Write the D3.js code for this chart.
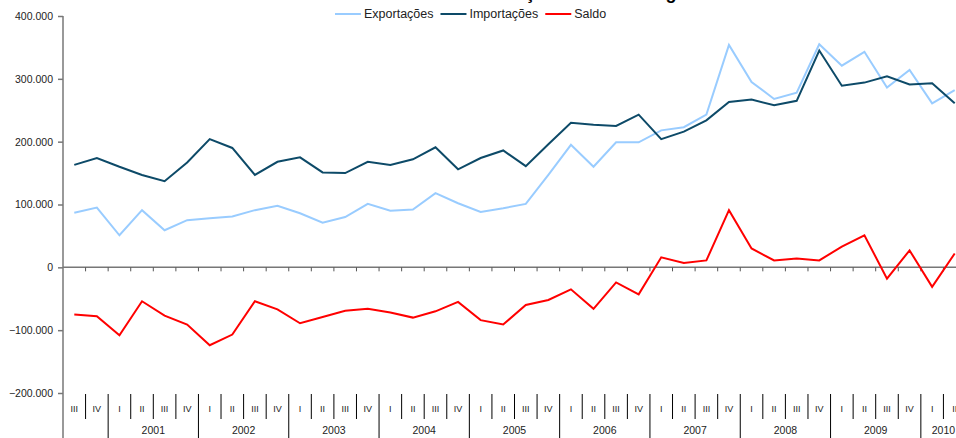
<!DOCTYPE html>
<html>
<head>
<meta charset="utf-8">
<script src="https://cdn.jsdelivr.net/npm/d3@7"></script>
<style>
    body { margin: 0; overflow: hidden; background: #fff; }
    svg { display: block; font-family: "Liberation Sans", Arial, sans-serif; }
</style>
</head>
<body>
<svg id="chart" width="956" height="438"></svg>
<script>
// quarterly values, thousands
const years = ["2000", "2001", "2002", "2003", "2004", "2005", "2006", "2007", "2008", "2009", "2010"];
const yearQuarters = [
    ["III", "IV"],
    ["I", "II", "III", "IV"], ["I", "II", "III", "IV"], ["I", "II", "III", "IV"],
    ["I", "II", "III", "IV"], ["I", "II", "III", "IV"], ["I", "II", "III", "IV"],
    ["I", "II", "III", "IV"], ["I", "II", "III", "IV"], ["I", "II", "III", "IV"],
    ["I", "II"]
];
const exportacoes = [87, 95, 51, 91, 59, 75, 78, 81, 91, 98, 86, 71, 80, 101, 90, 92, 118, 102, 88, 94,
    101, 147, 195, 160, 199, 199, 218, 223, 243, 354, 295, 268, 278, 355, 321, 343, 286, 314, 261, 282];
const importacoes = [163, 174, 160, 147, 137, 167, 204, 190, 147, 168, 175, 151, 150, 168, 163, 172, 191, 156, 174, 186,
    161, 196, 230, 227, 225, 243, 204, 216, 234, 263, 267, 258, 265, 345, 289, 294, 304, 291, 293, 261];
const saldo = [-75, -78, -108, -54, -77, -91, -124, -107, -54, -67, -89, -79, -69, -66, -72, -80, -70, -55, -84, -91,
    -60, -52, -35, -66, -24, -43, 16, 7, 11, 91, 30, 11, 14, 11, 33, 51, -18, 27, -31, 22];
const yTicks = [-200000, -100000, 0, 100000, 200000, 300000, 400000];
const titleText = "Balança Comercial Angola";

const series = [
    { name: "Exportações", values: exportacoes, color: "#99ccff" },
    { name: "Importações", values: importacoes, color: "#0d4a68" },
    { name: "Saldo", values: saldo, color: "#ff0000" }
];

const periods = [];
years.forEach((yr, i) => yearQuarters[i].forEach(q => periods.push({ key: yr + " " + q, year: yr, q: q })));

const svg = d3.select("#chart");
const height = +svg.attr("height");

const x = d3.scaleBand().domain(periods.map(d => d.key)).range([63, 966]).padding(0);
const y = d3.scaleLinear().domain([-200000, 400000]).range([393, 16]);
const cx = i => x(periods[i].key) + x.bandwidth() / 2;

// title, clipped by the top edge
svg.append("text")
    .attr("x", 476).attr("y", -1)
    .attr("font-size", 18).attr("font-weight", "bold").attr("fill", "#000")
    .text(titleText);

// y axis
const yAxis = d3.axisLeft(y).tickValues(yTicks).tickSize(5)
    .tickFormat(d => d === 0 ? "0" : d3.format(",")(d).replace(/,/g, "."));
const gy = svg.append("g").attr("transform", "translate(63,0)").call(yAxis);
gy.select(".domain").remove();
gy.selectAll(".tick line").attr("stroke", "#777").attr("stroke-width", 1.5);
gy.selectAll(".tick text").attr("x", -10).attr("font-size", 10.5).attr("fill", "#222")
    .attr("font-family", "Liberation Sans, Arial, sans-serif");
svg.append("line").attr("x1", 63).attr("x2", 63).attr("y1", 16).attr("y2", height)
    .attr("stroke", "#777").attr("stroke-width", 1.5);

// zero line with category ticks
svg.append("line").attr("x1", 63).attr("x2", 966).attr("y1", y(0)).attr("y2", y(0))
    .attr("stroke", "#777").attr("stroke-width", 1.5);
svg.append("g").selectAll("line").data(periods.slice(1)).enter().append("line")
    .attr("x1", d => x(d.key)).attr("x2", d => x(d.key))
    .attr("y1", y(0)).attr("y2", y(0) + 4)
    .attr("stroke", "#555").attr("stroke-width", 1);

// category labels at the bottom
const gx = svg.append("g");
gx.selectAll(".sep").data(periods.slice(1)).enter().append("line")
    .attr("class", "sep")
    .attr("x1", d => x(d.key)).attr("x2", d => x(d.key))
    .attr("y1", 394).attr("y2", d => d.q === "I" ? height : 419)
    .attr("stroke", "#000").attr("stroke-width", 1);
gx.selectAll(".q").data(periods).enter().append("text")
    .attr("class", "q")
    .attr("x", d => x(d.key) + x.bandwidth() / 2).attr("y", 409)
    .attr("dy", "0.35em").attr("text-anchor", "middle")
    .attr("font-size", 9).attr("fill", "#222")
    .text(d => d.q);
const yearGroups = years.slice(1).map(yr => {
    const ps = periods.filter(p => p.year === yr);
    return { year: yr, x0: x(ps[0].key), x1: x(ps[ps.length - 1].key) + x.bandwidth() };
});
gx.selectAll(".yr").data(yearGroups).enter().append("text")
    .attr("class", "yr")
    .attr("x", d => (d.x0 + d.x1) / 2).attr("y", 430)
    .attr("dy", "0.35em").attr("text-anchor", "middle")
    .attr("font-size", 10.5).attr("fill", "#222")
    .text(d => d.year);

// lines
const line = d3.line().x((d, i) => cx(i)).y(d => y(d * 1000));
svg.append("g").selectAll("path").data(series).enter().append("path")
    .attr("d", d => line(d.values))
    .attr("fill", "none")
    .attr("stroke", d => d.color)
    .attr("stroke-width", 2)
    .attr("stroke-linejoin", "miter");

// legend
const legend = svg.append("g");
let lx = 335;
series.forEach(s => {
    legend.append("line").attr("x1", lx).attr("x2", lx + 26).attr("y1", 14).attr("y2", 14)
        .attr("stroke", s.color).attr("stroke-width", 2);
    const t = legend.append("text").attr("x", lx + 29).attr("y", 14).attr("dy", "0.35em")
        .attr("font-size", 12.5).attr("fill", "#222").text(s.name);
    lx += 29 + t.node().getComputedTextLength() + 7;
});
</script>
</body>
</html>
